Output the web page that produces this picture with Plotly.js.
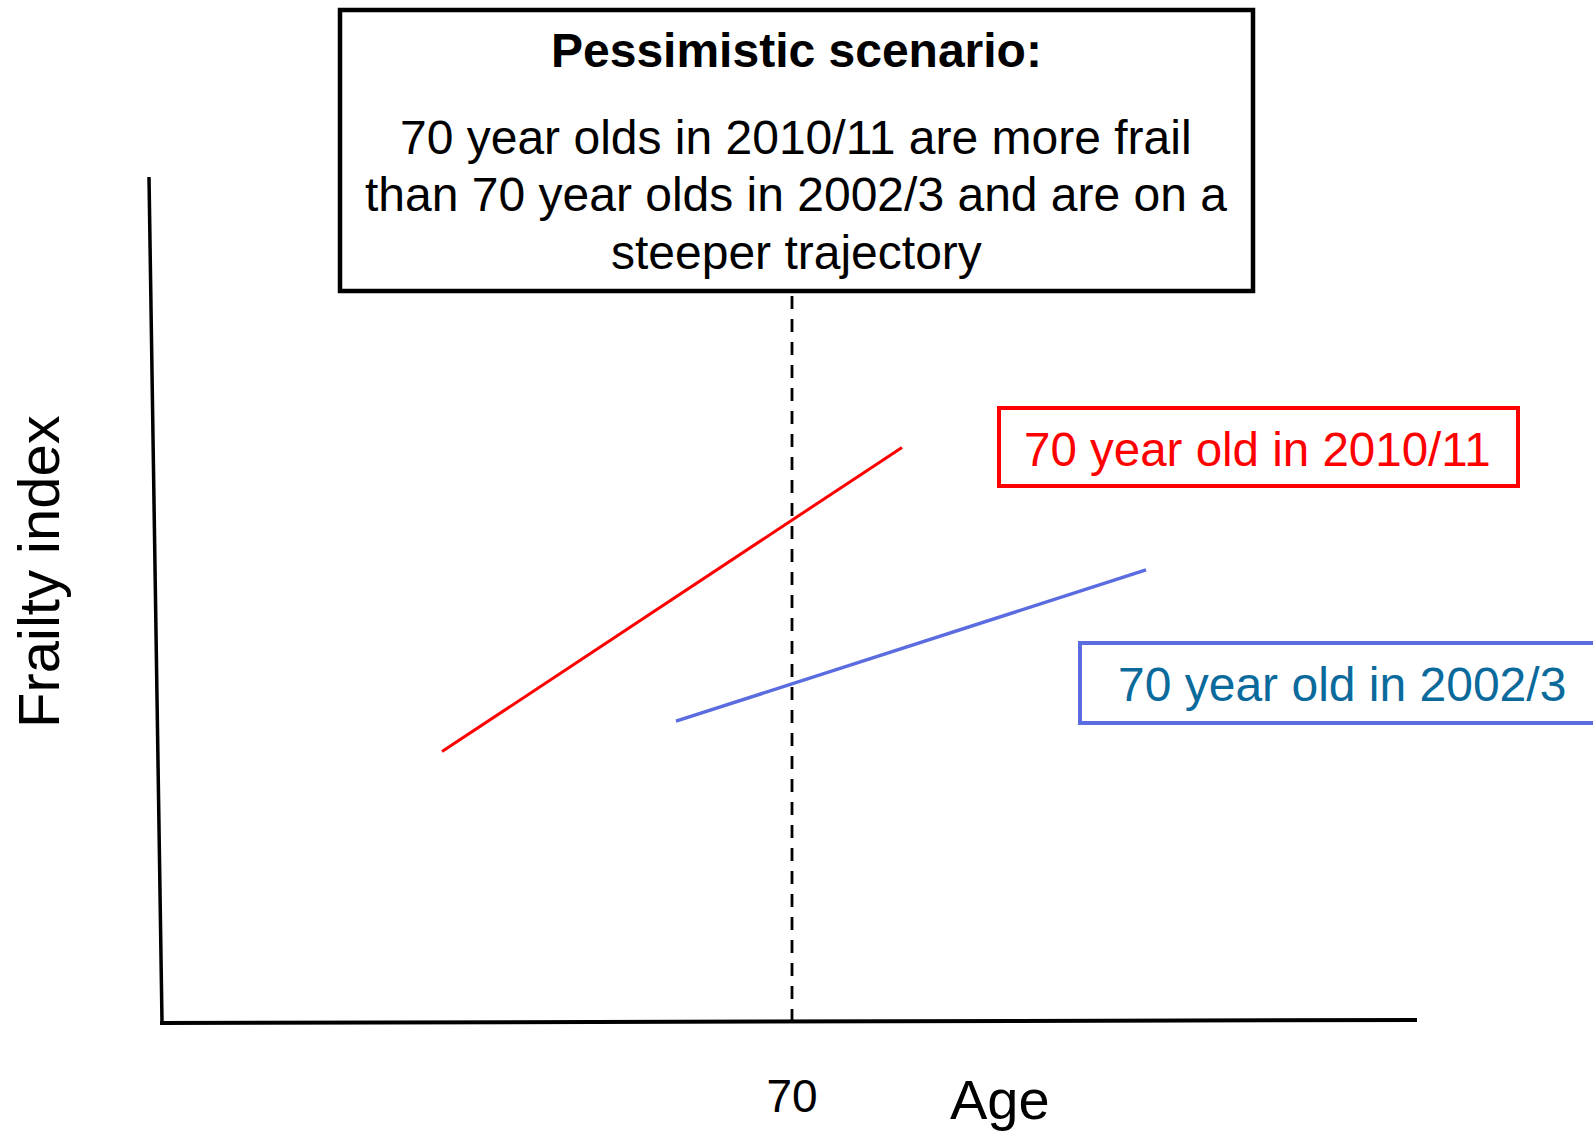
<!DOCTYPE html>
<html>
<head>
<meta charset="utf-8">
<script src="https://cdn.plot.ly/plotly-3.0.1.min.js"></script>
<style>html,body{margin:0;padding:0;background:#fff;}#chart{width:1593px;height:1131px;}</style>
</head>
<body>
<div id="chart"></div>
<script>
// Schematic data (age in years, frailty index on a 0-1 scale)
const ages2010 = [52.5, 75.5];
const frailty2010 = [0.32, 0.68];
const ages2002 = [64.2, 87.7];
const frailty2002 = [0.356, 0.535];
const refAge = [70, 70];
const refFrailty = [0, 0.86];
const tickVals = [70];
const tickText = ['70'];

const FONT = 'Liberation Sans, Arial, sans-serif';
const W = 1593, H = 1131;
const L = 160, R = 176, T = 177, B = 109;
const pw = W - L - R, ph = H - T - B;
const px = x => (x - L) / pw;
const py = y => (H - B - y) / ph;

const traces = [
  {x: refAge, y: refFrailty, mode: 'lines', line: {color: '#000', width: 2.8, dash: '13px,10px'}, hoverinfo: 'skip', showlegend: false},
  {x: ages2010, y: frailty2010, mode: 'lines', line: {color: '#ff0000', width: 3}, name: '70 year old in 2010/11', showlegend: false},
  {x: ages2002, y: frailty2002, mode: 'lines', line: {color: '#5b6be0', width: 3.5}, name: '70 year old in 2002/3', showlegend: false}
];

const layout = {
  width: W, height: H,
  margin: {l: L, r: R, t: T, b: B},
  paper_bgcolor: '#fff', plot_bgcolor: '#fff',
  font: {family: FONT, color: '#000'},
  xaxis: {range: [38.4, 101.25], showgrid: false, zeroline: false, showline: false,
          tickvals: tickVals, ticktext: tickText, ticks: '', ticklabelstandoff: 43,
          tickfont: {size: 46, family: FONT, color: '#000'}},
  yaxis: {range: [0, 1], showgrid: false, zeroline: false, showline: false, showticklabels: false, ticks: ''},
  shapes: [
    {type: 'line', xref: 'paper', yref: 'paper', x0: px(149), y0: py(177), x1: px(162), y1: py(1022), line: {color: '#000', width: 3.5}},
    {type: 'line', xref: 'paper', yref: 'paper', x0: px(160), y0: py(1023), x1: px(1417), y1: py(1020), line: {color: '#000', width: 4}},
    {type: 'rect', xref: 'paper', yref: 'paper', x0: px(340), y0: py(291), x1: px(1253), y1: py(10), line: {color: '#000', width: 4.5}},
    {type: 'rect', xref: 'paper', yref: 'paper', x0: px(999), y0: py(486), x1: px(1518), y1: py(408), line: {color: '#ff0000', width: 4}},
    {type: 'rect', xref: 'paper', yref: 'paper', x0: px(1080), y0: py(723), x1: px(1605), y1: py(643), line: {color: '#5b6be0', width: 4}}
  ],
  annotations: [
    {xref: 'paper', yref: 'paper', x: px(796), y: py(51), text: '<b>Pessimistic scenario:</b>', showarrow: false, xanchor: 'center', yanchor: 'middle', font: {size: 48, family: FONT, color: '#000'}},
    {xref: 'paper', yref: 'paper', x: px(796), y: py(138), text: '70 year olds in 2010/11 are more frail', showarrow: false, xanchor: 'center', yanchor: 'middle', font: {size: 48, family: FONT, color: '#000'}},
    {xref: 'paper', yref: 'paper', x: px(796), y: py(195), text: 'than 70 year olds in 2002/3 and are on a', showarrow: false, xanchor: 'center', yanchor: 'middle', font: {size: 48, family: FONT, color: '#000'}},
    {xref: 'paper', yref: 'paper', x: px(796), y: py(253), text: 'steeper trajectory', showarrow: false, xanchor: 'center', yanchor: 'middle', font: {size: 48, family: FONT, color: '#000'}},
    {xref: 'paper', yref: 'paper', x: px(1257), y: py(449), text: '70 year old in 2010/11', showarrow: false, xanchor: 'center', yanchor: 'middle', font: {size: 47.5, family: FONT, color: '#ff0000'}},
    {xref: 'paper', yref: 'paper', x: px(1342), y: py(684), text: '70 year old in 2002/3', showarrow: false, xanchor: 'center', yanchor: 'middle', font: {size: 48, family: FONT, color: '#0b6a9c'}},
    {xref: 'paper', yref: 'paper', x: px(38), y: py(572), text: 'Frailty index', textangle: -90, showarrow: false, xanchor: 'center', yanchor: 'middle', font: {size: 58, family: FONT, color: '#000'}},
    {xref: 'paper', yref: 'paper', x: px(1000), y: py(1099), text: 'Age', showarrow: false, xanchor: 'center', yanchor: 'middle', font: {size: 56, family: FONT, color: '#000'}}
  ]
};

Plotly.newPlot('chart', traces, layout, {displayModeBar: false, staticPlot: true});
</script>
</body>
</html>
